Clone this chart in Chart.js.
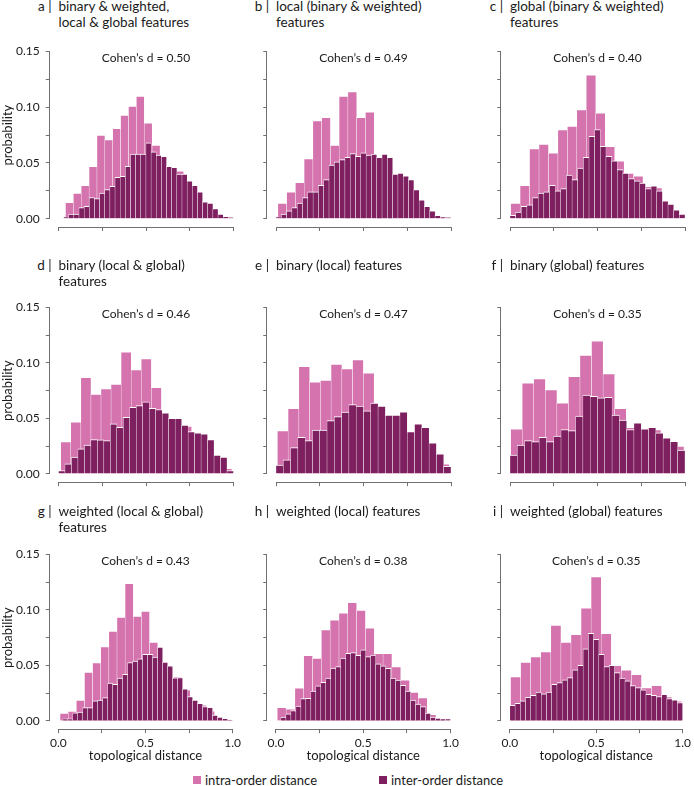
<!DOCTYPE html>
<html>
<head>
<meta charset="utf-8">
<script src="https://cdn.jsdelivr.net/npm/chart.js@4.4.1/dist/chart.umd.min.js"></script>
<style>
  body { margin: 0; width: 694px; height: 786px; position: relative; overflow: hidden; background: #fff; font-family: Lato, sans-serif; color: #1a1a1a; }
  canvas { position: absolute; }
  .ttl { position: absolute; font-size: 13.5px; line-height: 16px; white-space: nowrap; }
  .leg { position: absolute; font-size: 13px; line-height: 15px; display: flex; align-items: center; white-space: nowrap; }
  .leg i { display: inline-block; width: 8px; height: 8px; margin-right: 4px; }
</style>
</head>
<body>
<script>
// panel labels and titles
const panelLetters = ['a', 'b', 'c', 'd', 'e', 'f', 'g', 'h', 'i'];
const panelTitles = [
    ['binary & weighted,', 'local & global features'],
    ['local (binary & weighted)', 'features'],
    ['global (binary & weighted)', 'features'],
    ['binary (local & global)', 'features'],
    ['binary (local) features'],
    ['binary (global) features'],
    ['weighted (local & global)', 'features'],
    ['weighted (local) features'],
    ['weighted (global) features'],
];
const cohenD = ['0.50', '0.49', '0.40', '0.46', '0.47', '0.35', '0.43', '0.38', '0.35'];

// axis ticks
const xTicks = [0, 0.25, 0.5, 0.75, 1];
const yTicks = [0, 0.025, 0.05, 0.075, 0.1, 0.125, 0.15];

// histogram bins: first edge and width of the intra bins, first edge of the inter bins (they end at 1.0)
const intraStart = [0.04, 0.011, 0.004, 0.013, 0.008, 0.004, 0.0095, 0.0076, 0.004];
const intraWidth = [0.045, 0.05, 0.054, 0.0575, 0.0614, 0.066, 0.0467, 0.0505, 0.0583];
const interStart = [0.029, 0, 0, 0, 0, 0, 0.025, 0.0285, 0];

// intra-order distance (probability per bin)
const intraA = [0.0146, 0.023, 0.030, 0.047, 0.075, 0.071, 0.081, 0.093, 0.101, 0.110, 0.086, 0.066, 0.046, 0.045, 0.043, 0.033, 0.024, 0.015, 0.009, 0.004, 0.001];
const intraB = [0.014, 0.024, 0.0325, 0.054, 0.088, 0.091, 0.066, 0.110, 0.114, 0.091, 0.096, 0.054, 0.053, 0.039, 0.034, 0.025, 0.011, 0.007, 0.0015];
const intraC = [0.014, 0.030, 0.063, 0.067, 0.059, 0.080, 0.083, 0.098, 0.129, 0.095, 0.065, 0.052, 0.041, 0.0385, 0.029, 0.028, 0.013, 0.004];
const intraD = [0.029, 0.047, 0.087, 0.072, 0.077, 0.081, 0.110, 0.094, 0.104, 0.078, 0.050, 0.049, 0.043, 0.036, 0.030, 0.015, 0.005];
const intraE = [0.039, 0.059, 0.097, 0.083, 0.0845, 0.099, 0.095, 0.103, 0.091, 0.052, 0.051, 0.052, 0.037, 0.041, 0.018, 0.009];
const intraF = [0.0407, 0.082, 0.086, 0.076, 0.064, 0.088, 0.107, 0.120, 0.0905, 0.059, 0.042, 0.040, 0.040, 0.029, 0.025];
const intraG = [0.007, 0.0088, 0.0187, 0.044, 0.0526, 0.067, 0.081, 0.0937, 0.124, 0.0946, 0.099, 0.071, 0.052, 0.038, 0.040, 0.028, 0.018, 0.0145, 0.009, 0.003, 0.001];
const intraH = [0.0123, 0.0108, 0.0298, 0.059, 0.0567, 0.0823, 0.091, 0.0975, 0.107, 0.100, 0.084, 0.061, 0.061, 0.049, 0.037, 0.026, 0.021, 0.006, 0.002];
const intraI = [0.040, 0.053, 0.058, 0.0625, 0.0864, 0.071, 0.078, 0.102, 0.130, 0.079, 0.050, 0.046, 0.042, 0.030, 0.032, 0.022, 0.018];

// inter-order distance (probability per bin)
const interA = [0.0015, 0.004, 0.004, 0.010, 0.011, 0.019, 0.018, 0.023, 0.026, 0.029, 0.037, 0.038, 0.047, 0.058, 0.058, 0.058, 0.068, 0.060, 0.057, 0.056, 0.047, 0.046, 0.040, 0.040, 0.034, 0.030, 0.024, 0.015, 0.014, 0.009, 0.004, 0.002, 0.001];
const interB = [0.0015, 0.004, 0.007, 0.010, 0.014, 0.019, 0.024, 0.024, 0.030, 0.035, 0.048, 0.051, 0.053, 0.055, 0.0585, 0.056, 0.059, 0.057, 0.058, 0.055, 0.058, 0.055, 0.040, 0.041, 0.0385, 0.035, 0.026, 0.017, 0.011, 0.007, 0.003, 0.0015, 0.001];
const interC = [0.003, 0.006, 0.011, 0.0125, 0.019, 0.023, 0.024, 0.030, 0.025, 0.027, 0.039, 0.035, 0.0455, 0.055, 0.074, 0.080, 0.065, 0.056, 0.052, 0.044, 0.041, 0.036, 0.034, 0.032, 0.027, 0.0295, 0.025, 0.016, 0.013, 0.008, 0.004];
const interD = [0.003, 0.009, 0.015, 0.0225, 0.026, 0.031, 0.0306, 0.030, 0.045, 0.042, 0.051, 0.060, 0.0615, 0.065, 0.059, 0.058, 0.055, 0.050, 0.050, 0.044, 0.038, 0.037, 0.036, 0.031, 0.017, 0.015, 0.003];
const interE = [0.008, 0.0126, 0.0237, 0.033, 0.030, 0.0395, 0.0395, 0.048, 0.0516, 0.0557, 0.0624, 0.061, 0.0568, 0.0639, 0.061, 0.053, 0.053, 0.056, 0.038, 0.045, 0.042, 0.028, 0.018, 0.0067];
const interF = [0.017, 0.026, 0.030, 0.029, 0.033, 0.029, 0.034, 0.040, 0.039, 0.052, 0.071, 0.070, 0.0685, 0.069, 0.053, 0.0485, 0.040, 0.046, 0.0407, 0.042, 0.037, 0.0325, 0.0293, 0.0214];
const interG = [0.0018, 0.0018, 0.0073, 0.0079, 0.012, 0.012, 0.018, 0.0187, 0.021, 0.034, 0.033, 0.0385, 0.042, 0.0526, 0.054, 0.056, 0.060, 0.060, 0.0575, 0.0666, 0.053, 0.0496, 0.0388, 0.039, 0.029, 0.022, 0.0187, 0.0158, 0.0128, 0.0123, 0.0053, 0.0035, 0.0023, 0.0006];
const interH = [0.0035, 0.0064, 0.0093, 0.0134, 0.020, 0.0204, 0.0269, 0.0315, 0.0347, 0.0385, 0.0476, 0.049, 0.0567, 0.061, 0.0616, 0.059, 0.064, 0.058, 0.0593, 0.0514, 0.0496, 0.0473, 0.0385, 0.0368, 0.032, 0.0269, 0.0187, 0.0152, 0.0128, 0.007, 0.0035, 0.0026, 0.002, 0.0018];
const interI = [0.014, 0.0158, 0.018, 0.0213, 0.023, 0.026, 0.0245, 0.026, 0.033, 0.0345, 0.037, 0.039, 0.046, 0.050, 0.065, 0.079, 0.0736, 0.060, 0.049, 0.050, 0.0435, 0.0385, 0.036, 0.0318, 0.030, 0.028, 0.024, 0.023, 0.022, 0.024, 0.020, 0.019, 0.0165];

const intraSeries = [intraA, intraB, intraC, intraD, intraE, intraF, intraG, intraH, intraI];
const interSeries = [interA, interB, interC, interD, interE, interF, interG, interH, interI];

const PINK = '#d473ae';
const DARK = '#7e1f60';
const AXIS = '#707070';
const TEXT = '#1a1a1a';

Chart.defaults.font.family = 'Lato';
Chart.defaults.color = TEXT;

// page geometry
const colLeft = [0, 244, 462];
const colWidth = [244, 218, 232];
const axisX = [49.75, 267.25, 501.25];
const rowTop = [30, 286, 533];
const rowHeight = [226, 216, 237];
const chartTop = [37.7, 293.95, 540.7];
const chartBottom = [227.0, 482.15, 729.2];
const titleTop = [-2.4, 256.6, 502.6];

// thin white outline between neighbouring bars
const barBorder = { top: 1, left: 0.5, right: 0.5, bottom: 0 };

// axis lines that stop at 0 and 1 / 0 and 0.15, plus the Cohen's d note
const axisLines = {
    id: 'axisLines',
    afterDraw(chart, args, opts) {
        const { ctx, chartArea, scales } = chart;
        const x = scales.x, y = scales.y;
        ctx.save();
        ctx.strokeStyle = AXIS;
        ctx.lineWidth = 1;
        ctx.beginPath();
        const by = Math.round(chartArea.bottom) + 0.5;
        ctx.moveTo(x.getPixelForValue(0), by);
        ctx.lineTo(x.getPixelForValue(1), by);
        const lx = Math.round(chartArea.left) - 0.5;
        ctx.moveTo(lx, y.getPixelForValue(0));
        ctx.lineTo(lx, y.getPixelForValue(0.15));
        ctx.stroke();
        ctx.fillStyle = TEXT;
        ctx.font = '12px Lato';
        ctx.textAlign = 'center';
        ctx.textBaseline = 'middle';
        ctx.fillText('Cohen\u2019s d = ' + opts.d, x.getPixelForValue(0.5), y.getPixelForValue(0.15) + 7);
        ctx.restore();
    }
};

function binPoints(values, start, width) {
    return values.map((v, i) => ({ x: start + (i + 0.5) * width, y: v }));
}

function createPanel(p) {
    const row = Math.floor(p / 3), col = p % 3;
    const bottomRow = row === 2, firstCol = col === 0;

    const canvas = document.createElement('canvas');
    canvas.width = colWidth[col];
    canvas.height = rowHeight[row];
    canvas.style.left = colLeft[col] + 'px';
    canvas.style.top = rowTop[row] + 'px';
    document.body.appendChild(canvas);

    const yw = axisX[col] - colLeft[col];
    const xh = rowTop[row] + rowHeight[row] - chartBottom[row];
    const padRight = colWidth[col] - yw - 192.5;

    const inter = interSeries[p];
    const interW = (1 - interStart[p]) / inter.length;

    new Chart(canvas, {
        type: 'bar',
        data: {
            datasets: [{
                label: 'inter-order distance',
                data: binPoints(inter, interStart[p], interW),
                xAxisID: 'x2',
                backgroundColor: DARK,
                borderColor: '#ffffff',
                borderWidth: barBorder,
                borderSkipped: false,
                barPercentage: 1,
                categoryPercentage: 1,
                grouped: false,
                order: 0,
            }, {
                label: 'intra-order distance',
                data: binPoints(intraSeries[p], intraStart[p], intraWidth[p]),
                xAxisID: 'x',
                backgroundColor: PINK,
                borderColor: 'rgba(255,255,255,0.85)',
                borderWidth: barBorder,
                borderSkipped: false,
                barPercentage: 1,
                categoryPercentage: 1,
                grouped: false,
                order: 1,
            }],
        },
        options: {
            responsive: false,
            animation: false,
            layout: { padding: { top: chartTop[row] - rowTop[row], right: padRight, left: 0, bottom: 0 } },
            plugins: {
                legend: { display: false },
                tooltip: { enabled: false },
                axisLines: { d: cohenD[p] },
            },
            scales: {
                x: {
                    type: 'linear',
                    min: -0.05,
                    max: 1.05,
                    offset: false,
                    afterBuildTicks: s => { s.ticks = xTicks.map(v => ({ value: v })); },
                    afterFit: s => { s.height = xh; },
                    border: { display: false },
                    grid: { offset: false, drawOnChartArea: false, tickLength: 4, color: AXIS },
                    ticks: {
                        autoSkip: false,
                        maxRotation: 0,
                        padding: 3,
                        font: { size: 12 },
                        callback: v => (bottomRow && v % 0.5 === 0) ? v.toFixed(1) : '',
                    },
                    title: {
                        display: bottomRow,
                        text: 'topological distance',
                        font: { size: 13 },
                        padding: { top: 0, bottom: 6.2 },
                    },
                },
                x2: { type: 'linear', min: -0.05, max: 1.05, offset: false, display: false },
                y: {
                    min: -0.0075,
                    max: 0.1575,
                    afterBuildTicks: s => { s.ticks = yTicks.map(v => ({ value: v })); },
                    afterFit: s => { s.width = yw; },
                    border: { display: false },
                    grid: { drawOnChartArea: false, tickLength: 4, color: AXIS },
                    ticks: {
                        autoSkip: false,
                        padding: 6,
                        font: { size: 12 },
                        callback: v => (firstCol && Math.round(v * 1000) % 50 === 0) ? v.toFixed(2) : '',
                    },
                    title: {
                        display: firstCol,
                        text: 'probability',
                        font: { size: 13 },
                        padding: { top: 0, bottom: 0 },
                    },
                },
            },
        },
        plugins: [axisLines],
    });

    // panel title: letter, bar, text
    const letter = document.createElement('div');
    letter.className = 'ttl';
    letter.textContent = panelLetters[p];
    letter.style.top = titleTop[row] + 'px';
    letter.style.right = (694 - axisX[col] + 5) + 'px';
    document.body.appendChild(letter);

    const bar = document.createElement('div');
    bar.className = 'ttl';
    bar.textContent = '|';
    bar.style.top = titleTop[row] + 'px';
    bar.style.left = (axisX[col] - 1.5) + 'px';
    document.body.appendChild(bar);

    const ttl = document.createElement('div');
    ttl.className = 'ttl';
    ttl.innerHTML = panelTitles[p].map(t => t.replace(/&/g, '&amp;')).join('<br>');
    ttl.style.top = titleTop[row] + 'px';
    ttl.style.left = (axisX[col] + 8.75) + 'px';
    document.body.appendChild(ttl);
}

document.addEventListener('DOMContentLoaded', () => {
    for (let p = 0; p < 9; p++) createPanel(p);

    // legend
    const items = [['intra-order distance', PINK, 193], ['inter-order distance', DARK, 379]];
    items.forEach(([label, color, left]) => {
        const el = document.createElement('div');
        el.className = 'leg';
        el.style.left = left + 'px';
        el.style.top = '772.5px';
        el.innerHTML = '<i style="background:' + color + '"></i>' + label;
        document.body.appendChild(el);
    });
});
</script>
</body>
</html>
